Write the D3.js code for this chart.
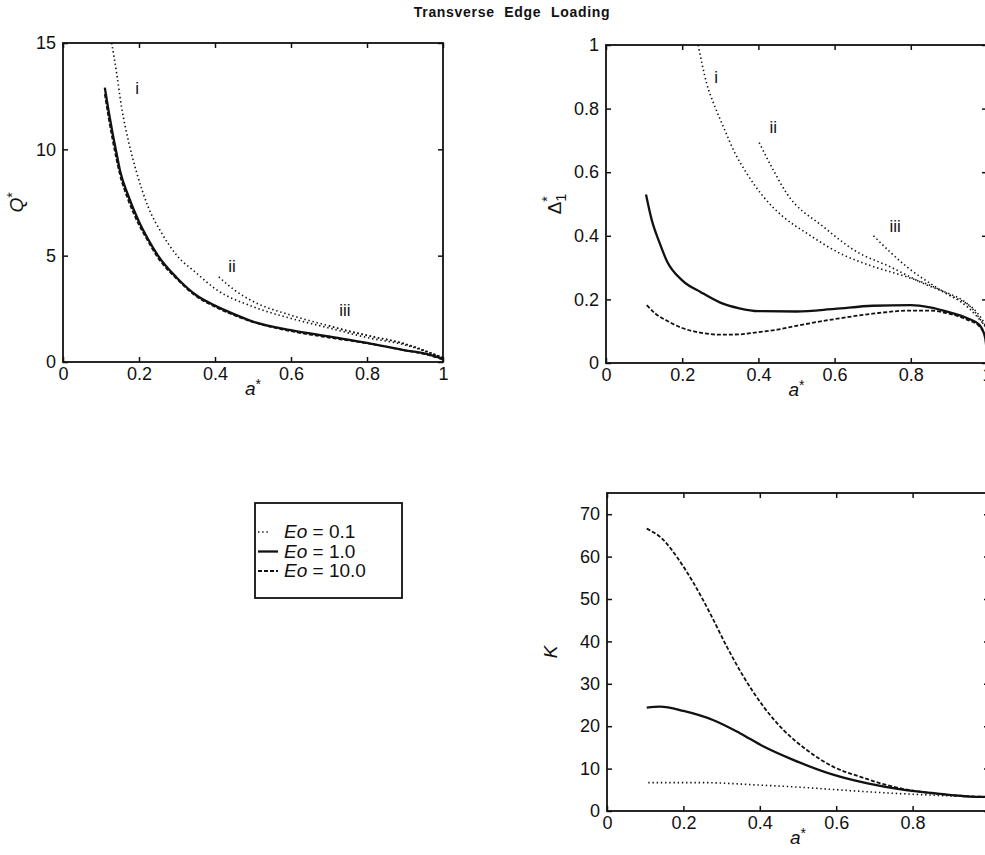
<!DOCTYPE html>
<html>
<head>
<meta charset="utf-8">
<script src="https://cdn.jsdelivr.net/npm/d3@7"></script>
<style>
  body { margin:0; background:#fff; }
  text { font-family: "Liberation Sans", Arial, sans-serif; fill:#111; }
</style>
</head>
<body>
<div id="chart"></div>
<script>
// ---- data: [a*, value] ----
// Q* panel
const qEo01i   = [[0.128,15],[0.141,13.6],[0.154,12.0],[0.172,10.4],[0.194,8.9],[0.224,7.3],[0.26,6.05],[0.3,5.0],[0.35,4.2],[0.4,3.45],[0.5,2.6],[0.6,2.05],[0.7,1.6],[0.8,1.15],[0.9,0.8],[1.0,0.2]]
const qEo01ii  = [[0.41,4.0],[0.45,3.4],[0.5,2.85],[0.6,2.2],[0.7,1.7],[0.8,1.25],[0.9,0.85],[1.0,0.2]]
const qEo01iii = [[0.7,1.7],[0.75,1.45],[0.8,1.25],[0.9,0.85],[1.0,0.2]]
const qEo1     = [[0.11,12.9],[0.12,11.8],[0.13,10.8],[0.14,9.9],[0.15,9.0],[0.17,7.9],[0.2,6.6],[0.22,5.9],[0.25,5.0],[0.3,3.95],[0.35,3.15],[0.4,2.65],[0.45,2.25],[0.5,1.9],[0.6,1.5],[0.7,1.2],[0.8,0.9],[0.9,0.55],[0.95,0.4],[1.0,0.15]]
const qEo10    = [[0.11,12.6],[0.12,11.5],[0.13,10.5],[0.14,9.6],[0.15,8.8],[0.17,7.7],[0.2,6.45],[0.22,5.8],[0.25,4.9],[0.3,3.9],[0.35,3.1],[0.4,2.6],[0.45,2.2],[0.5,1.88],[0.6,1.45],[0.7,1.15],[0.8,0.88],[0.9,0.55],[0.95,0.38],[1.0,0.12]]
// Delta1* panel
const dEo01i   = [[0.242,1.0],[0.264,0.88],[0.286,0.806],[0.308,0.743],[0.339,0.659],[0.369,0.597],[0.413,0.523],[0.465,0.46],[0.527,0.408],[0.614,0.345],[0.702,0.303],[0.789,0.271],[0.877,0.23],[0.964,0.167],[0.995,0.114]]
const dEo01ii  = [[0.402,0.693],[0.439,0.607],[0.474,0.534],[0.57,0.429],[0.658,0.35],[0.745,0.303],[0.833,0.25],[0.9,0.215],[0.982,0.146],[1.0,0.11]]
const dEo01iii = [[0.702,0.40],[0.789,0.303],[0.877,0.23],[0.95,0.175],[1.0,0.11]]
const dEo1     = [[0.105,0.53],[0.12,0.45],[0.14,0.38],[0.16,0.32],[0.2,0.26],[0.25,0.222],[0.3,0.19],[0.35,0.172],[0.4,0.163],[0.5,0.162],[0.6,0.17],[0.7,0.18],[0.8,0.182],[0.85,0.175],[0.9,0.16],[0.95,0.14],[0.98,0.12],[0.995,0.08],[1.0,0.03]]
const dEo10    = [[0.107,0.182],[0.13,0.155],[0.16,0.133],[0.2,0.11],[0.25,0.095],[0.3,0.089],[0.35,0.09],[0.4,0.097],[0.45,0.105],[0.5,0.117],[0.6,0.138],[0.7,0.155],[0.8,0.165],[0.85,0.165],[0.9,0.155],[0.95,0.135],[0.98,0.115],[1.0,0.08]]
// K panel
const kEo01    = [[0.108,6.7],[0.244,6.7],[0.402,6.1],[0.507,5.6],[0.612,4.95],[0.725,4.3],[0.839,3.8],[0.95,3.4],[1.0,3.3]]
const kEo1     = [[0.104,24.4],[0.139,24.6],[0.2,23.6],[0.279,21.4],[0.349,18.3],[0.41,15.2],[0.489,12.0],[0.594,8.5],[0.682,6.5],[0.769,5.1],[0.856,4.2],[0.95,3.4],[1.0,3.3]]
const kEo10    = [[0.104,66.6],[0.148,63.9],[0.183,59.9],[0.227,53.7],[0.27,46.6],[0.314,38.7],[0.358,31.6],[0.41,24.6],[0.462,19.1],[0.523,14.4],[0.593,10.4],[0.662,8.1],[0.75,5.7],[0.839,4.3],[0.944,3.5],[1.0,3.3]]

const xTicks = [0,0.2,0.4,0.6,0.8,1]
const qTicks = [0,5,10,15]
const dTicks = [0,0.2,0.4,0.6,0.8,1]
const kTicks = [0,10,20,30,40,50,60,70]
const legendLabels = ["0.1","1.0","10.0"]

const styles = {
  dot:  {w:1.6, dash:"1.4,2.8"},
  sol:  {w:2.3, dash:null},
  dash: {w:1.8, dash:"4,2"}
}

const svg = d3.select("#chart").append("svg")
  .attr("width",985).attr("height",855)

svg.append("text")
  .attr("x",512).attr("y",17)
  .attr("text-anchor","middle")
  .style("font-size","14px").style("font-weight","bold")
  .style("letter-spacing","0.7px").style("word-spacing","5px")
  .text("Transverse Edge Loading")

const numFmt = d => d === 0 ? "0" : d === 1 ? "1" : (Number.isInteger(d) ? d : d3.format(".1f")(d))

function panel(cfg){
  const g = svg.append("g").attr("transform","translate("+cfg.left+","+cfg.top+")")
  const x = d3.scaleLinear().domain([0,1]).range([0,cfg.w])
  const y = d3.scaleLinear().domain(cfg.ydom).range([cfg.h,0])

  g.append("g").attr("transform","translate(0,"+cfg.h+")")
    .call(d3.axisBottom(x).tickValues(xTicks).tickFormat(numFmt).tickSizeInner(-5).tickSizeOuter(0).tickPadding(5))
  g.append("g")
    .call(d3.axisTop(x).tickValues(xTicks).tickFormat("").tickSizeInner(-5).tickSizeOuter(0))
  g.append("g")
    .call(d3.axisLeft(y).tickValues(cfg.yticks).tickFormat(numFmt).tickSizeInner(-5).tickSizeOuter(0).tickPadding(7))
  g.append("g").attr("transform","translate("+cfg.w+",0)")
    .call(d3.axisRight(y).tickValues(cfg.yticks).tickFormat("").tickSizeInner(-5).tickSizeOuter(0))
  g.selectAll(".domain").remove()
  g.selectAll(".tick line").attr("stroke","#111").attr("stroke-width",1.5)
  g.selectAll(".tick text").style("font-size","18px").style("font-family","Liberation Sans, Arial, sans-serif").attr("fill","#111")

  g.append("rect").attr("width",cfg.w).attr("height",cfg.h)
    .attr("fill","none").attr("stroke","#111").attr("stroke-width",1.8)

  const line = d3.line().x(d => x(d[0])).y(d => y(d[1])).curve(d3.curveMonotoneX)
  cfg.series.forEach(s => {
    const st = styles[s.style]
    g.append("path").datum(s.data)
      .attr("d",line)
      .attr("fill","none").attr("stroke","#111")
      .attr("stroke-width",st.w)
      .attr("stroke-dasharray",st.dash)
  })

  ;(cfg.marks || []).forEach(m => {
    g.append("text").attr("x",x(m[0])).attr("y",y(m[1]))
      .attr("text-anchor","middle").attr("dy","0.35em")
      .style("font-size","17px").text(m[2])
  })

  // x label a*
  const xl = g.append("text").attr("x",cfg.w/2).attr("y",cfg.h+33)
    .attr("text-anchor","middle").style("font-size","19px")
  xl.append("tspan").style("font-style","italic").text("a")
  xl.append("tspan").attr("dy","-6").style("font-size","14px").text("*")

  // y label
  const yl = g.append("text")
    .attr("transform","translate("+cfg.ylabX+","+cfg.h/2+") rotate(-90)")
    .attr("text-anchor","middle").style("font-size","19px")
  cfg.ylabel(yl)
}

panel({
  left:63, top:43, w:380, h:319, ydom:[0,15], yticks:qTicks, ylabX:-40,
  series:[
    {data:qEo01i, style:"dot"},{data:qEo01ii, style:"dot"},{data:qEo01iii, style:"dot"},
    {data:qEo10, style:"dash"},{data:qEo1, style:"sol"}
  ],
  marks:[[0.195,12.9,"i"],[0.445,4.5,"ii"],[0.742,2.45,"iii"]],
  ylabel: t => {
    t.append("tspan").style("font-style","italic").text("Q")
    t.append("tspan").attr("dy","-6").style("font-size","14px").text("*")
  }
})

panel({
  left:606, top:45, w:381, h:318, ydom:[0,1], yticks:dTicks, ylabX:-45,
  series:[
    {data:dEo01i, style:"dot"},{data:dEo01ii, style:"dot"},{data:dEo01iii, style:"dot"},
    {data:dEo10, style:"dash"},{data:dEo1, style:"sol"}
  ],
  marks:[[0.289,0.9,"i"],[0.439,0.743,"ii"],[0.759,0.43,"iii"]],
  ylabel: t => {
    t.append("tspan").text("Δ")
    t.append("tspan").attr("dy","5").style("font-size","14px").text("1")
    t.append("tspan").attr("dx","-8").attr("dy","-14").style("font-size","14px").text("*")
  }
})

panel({
  left:607, top:493, w:382, h:318, ydom:[0,75], yticks:kTicks, ylabX:-50,
  series:[
    {data:kEo01, style:"dot"},{data:kEo10, style:"dash"},{data:kEo1, style:"sol"}
  ],
  ylabel: t => { t.append("tspan").style("font-style","italic").text("K") }
})

// legend
const leg = svg.append("g").attr("transform","translate(255,503)")
leg.append("rect").attr("width",147).attr("height",95)
  .attr("fill","#fff").attr("stroke","#111").attr("stroke-width",1.8)
const legStyles = ["dot","sol","dash"]
legendLabels.forEach((lab,i) => {
  const yy = 35 + i*19.5
  const st = styles[legStyles[i]]
  leg.append("line").attr("x1",3).attr("x2",i === 0 ? 15 : 23).attr("y1",yy-6).attr("y2",yy-6)
    .attr("stroke","#111").attr("stroke-width",st.w).attr("stroke-dasharray",st.dash)
  const t = leg.append("text").attr("x",29).attr("y",yy).style("font-size","19px")
  t.append("tspan").style("font-style","italic").text("Eo")
  t.append("tspan").text(" = " + lab)
})
</script>
</body>
</html>
